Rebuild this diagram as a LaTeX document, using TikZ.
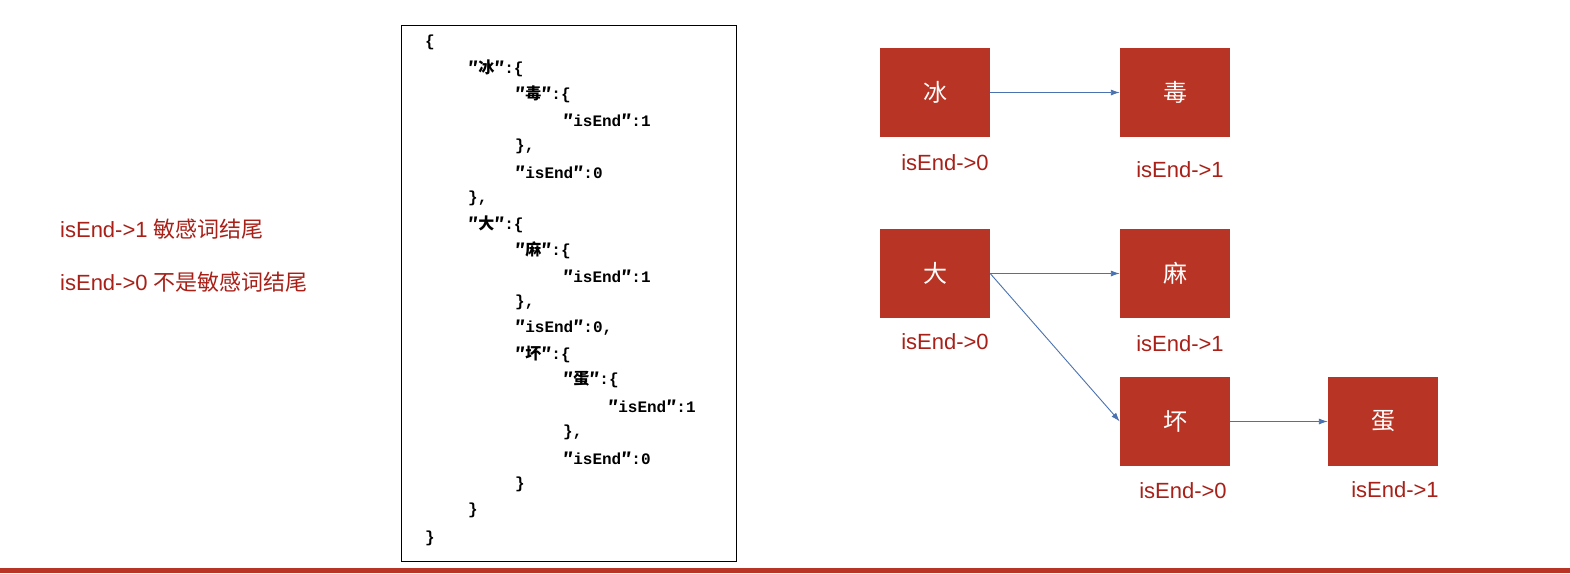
\documentclass[tikz,border=0pt]{standalone}
\usetikzlibrary{arrows.meta}
\usepackage{fontspec}
\setmainfont{Liberation Sans}
\newfontfamily\cjk{Noto Sans CJK SC}
\newfontfamily\cmono{Liberation Mono}
\newcommand{\dq}{{\cjk ″}}
\newcommand{\ck}[1]{{\cjk #1}}
\begin{document}
\begin{tikzpicture}[x=1pt,y=-1pt,
  box/.style={draw=none,fill=boxred,minimum width=110pt,minimum height=89pt,inner sep=0pt,text=white,font=\cjk\fontsize{24}{28}\selectfont},
  lab/.style={text=labred,font=\fontsize{22}{26}\selectfont,inner sep=0pt},
  code/.style={anchor=west,inner sep=0pt,font=\cmono\bfseries\fontsize{16}{18}\selectfont},
  arr/.style={draw=arrblue,line width=0.9pt,-{Latex[length=9pt,width=6pt]}}]
\definecolor{boxred}{HTML}{B83424}
\definecolor{labred}{HTML}{A82018}
\definecolor{arrblue}{HTML}{4A72B0}
\useasboundingbox (0,0) rectangle (1570,573);
\fill[white] (0,0) rectangle (1570,573);
\fill[boxred] (0,568) rectangle (1570,573);
% legend
\node[lab,anchor=west] (l1) at (60,229) {isEnd->1 \ck{敏感词结尾}};
\node[lab,anchor=west] (l2) at (60,282) {isEnd->0 \ck{不是敏感词结尾}};
% code box
\draw[line width=0.9pt] (401,25) rectangle (736,561);
\node[code] (c0) at (425,42) {\{};
\node[code] (c1) at (468,68) {\dq\ck{冰}\dq:\{};
\node[code] (c2) at (515,94) {\dq\ck{毒}\dq:\{};
\node[code] (c3) at (563,120) {\dq isEnd\dq:1};
\node[code] (c4) at (515,146) {\},};
\node[code] (c5) at (515,172) {\dq isEnd\dq:0};
\node[code] (c6) at (468,198) {\},};
\node[code] (c7) at (468,224) {\dq\ck{大}\dq:\{};
\node[code] (c8) at (515,250) {\dq\ck{麻}\dq:\{};
\node[code] (c9) at (563,276) {\dq isEnd\dq:1};
\node[code] (c10) at (515,302) {\},};
\node[code] (c11) at (515,328) {\dq isEnd\dq:0,};
\node[code] (c12) at (515,354) {\dq\ck{坏}\dq:\{};
\node[code] (c13) at (563,380) {\dq\ck{蛋}\dq:\{};
\node[code] (c14) at (608,406) {\dq isEnd\dq:1};
\node[code] (c15) at (563,432) {\},};
\node[code] (c16) at (563,458) {\dq isEnd\dq:0};
\node[code] (c17) at (515,484) {\}};
\node[code] (c18) at (468,510) {\}};
\node[code] (c19) at (425,538) {\}};
% tree
\node[box] (bing) at (935,92.5) {冰};
\node[box] (du) at (1175,92.5) {毒};
\node[box] (da) at (935,273.5) {大};
\node[box] (ma) at (1175,273.5) {麻};
\node[box] (huai) at (1175,421.5) {坏};
\node[box] (dan) at (1383,421.5) {蛋};
\node[lab] (lbing) at (945,163) {isEnd->0};
\node[lab] (ldu) at (1180,170) {isEnd->1};
\node[lab] (lda) at (945,342) {isEnd->0};
\node[lab] (lma) at (1180,344) {isEnd->1};
\node[lab] (lhuai) at (1183,491) {isEnd->0};
\node[lab] (ldan) at (1395,490) {isEnd->1};
\draw[arr] (bing.east) -- (du.west);
\draw[arr] (da.east) -- (ma.west);
\draw[arr] (da.east) -- (huai.west);
\draw[arr] (huai.east) -- (dan.west);
\end{tikzpicture}
\end{document}
